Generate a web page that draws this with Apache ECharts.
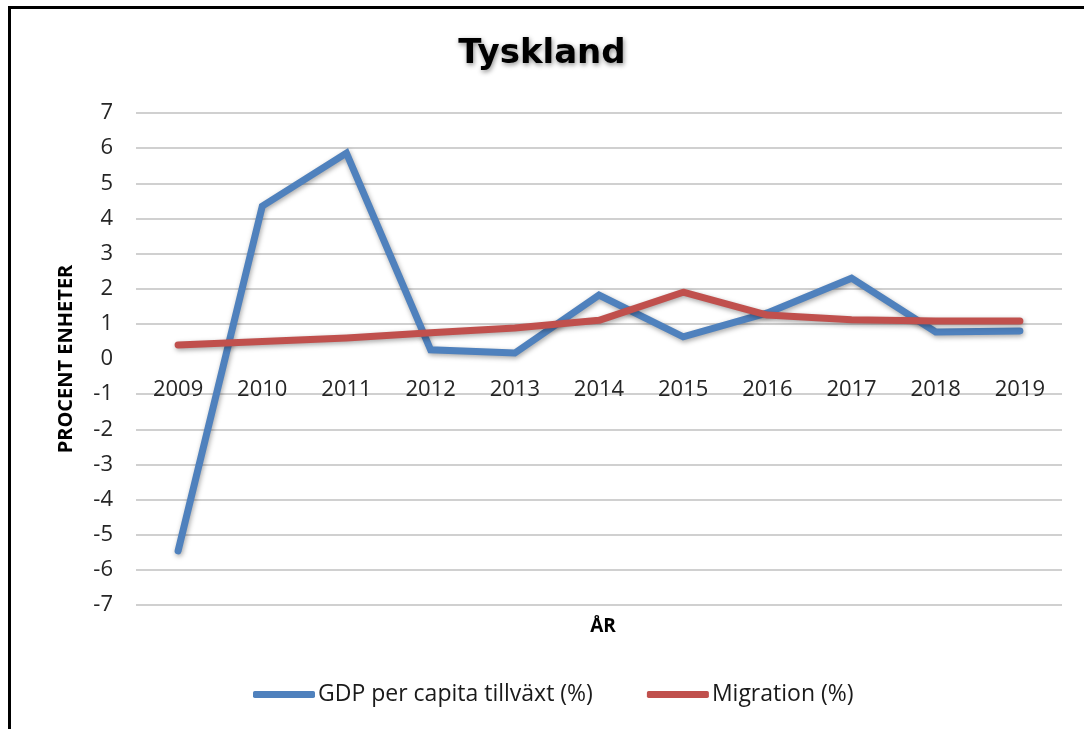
<!DOCTYPE html>
<html>
<head>
<meta charset="utf-8">
<script src="https://cdn.jsdelivr.net/npm/echarts@6/dist/echarts.min.js"></script>
<style>
html,body{margin:0;padding:0;background:#fff;}
#chart{width:1084px;height:729px;}
</style>
</head>
<body>
<div id="chart"></div>
<script>
const years = ['2009','2010','2011','2012','2013','2014','2015','2016','2017','2018','2019'];
const gdpGrowth = [-5.46, 4.35, 5.86, 0.26, 0.17, 1.82, 0.63, 1.31, 2.30, 0.77, 0.80];
const migration = [0.40, 0.50, 0.60, 0.75, 0.88, 1.10, 1.90, 1.25, 1.12, 1.08, 1.08];
const seriesNames = ['GDP per capita tillväxt (%)', 'Migration (%)'];
const yTicks = {min: -7, max: 7, interval: 1};

const font = '"Open Sans", "DejaVu Sans", sans-serif';
const chart = echarts.init(document.getElementById('chart'), null, {renderer: 'canvas'});
const shadow = {shadowBlur: 5, shadowColor: 'rgba(0,0,0,0.35)', shadowOffsetX: 1, shadowOffsetY: 2};
// grid geometry: top 113, bottom at 605 -> zero line 246px above the bottom
const zeroOffset = -(605 - 359);
chart.setOption({
  backgroundColor: '#ffffff',
  animation: false,
  title: [{
    text: 'Tyskland',
    left: 'center',
    top: 32,
    textStyle: {fontFamily: '"DejaVu Sans", sans-serif', fontWeight: 'bold', fontSize: 34, color: '#000',
      textShadowBlur: 5, textShadowColor: 'rgba(0,0,0,0.45)', textShadowOffsetX: 1, textShadowOffsetY: 2}
  }, {
    text: 'ÅR',
    left: 598,
    textAlign: 'center',
    top: 612,
    textStyle: {fontFamily: font, fontWeight: 'bold', fontSize: 19, color: '#000'}
  }],
  graphic: [
    {type: 'rect', shape: {x: 8, y: 6, width: 1076, height: 3}, style: {fill: '#000'}},
    {type: 'rect', shape: {x: 8, y: 6, width: 3, height: 723}, style: {fill: '#000'}}
  ],
  legend: {
    data: seriesNames,
    left: 248,
    top: 678,
    icon: 'roundRect',
    itemWidth: 62,
    itemHeight: 7,
    itemGap: 54,
    textStyle: {fontFamily: font, fontSize: 23, color: '#1a1a1a', padding: [0, 0, 0, -2]}
  },
  grid: {left: 136, right: 22, top: 113, bottom: 124},
  xAxis: {
    type: 'category',
    data: years,
    boundaryGap: true,
    z: 1,
    offset: zeroOffset,
    axisLine: {onZero: false, lineStyle: {color: '#ffffff', width: 4}},
    axisTick: {show: false},
    axisLabel: {fontFamily: font, fontSize: 22, color: '#262626', margin: 20}
  },
  yAxis: {
    type: 'value',
    min: yTicks.min,
    max: yTicks.max,
    interval: yTicks.interval,
    name: 'PROCENT ENHETER',
    nameLocation: 'middle',
    nameRotate: 90,
    nameGap: 60,
    nameTextStyle: {fontFamily: font, fontWeight: 'bold', fontSize: 20, color: '#000'},
    axisLine: {show: false},
    axisTick: {show: false},
    axisLabel: {fontFamily: font, fontSize: 22, color: '#262626', margin: 23},
    splitLine: {lineStyle: {color: '#d0d0d0', width: 2}}
  },
  series: [{
    name: seriesNames[0],
    type: 'line',
    data: gdpGrowth,
    symbol: 'none',
    itemStyle: {color: '#4f81bd'},
    lineStyle: Object.assign({color: '#4f81bd', width: 7, cap: 'round', join: 'miter'}, shadow),
    z: 3
  }, {
    name: seriesNames[1],
    type: 'line',
    data: migration,
    symbol: 'none',
    itemStyle: {color: '#c0504d'},
    lineStyle: Object.assign({color: '#c0504d', width: 7, cap: 'round', join: 'round'}, shadow),
    z: 4
  }]
});
</script>
</body>
</html>
